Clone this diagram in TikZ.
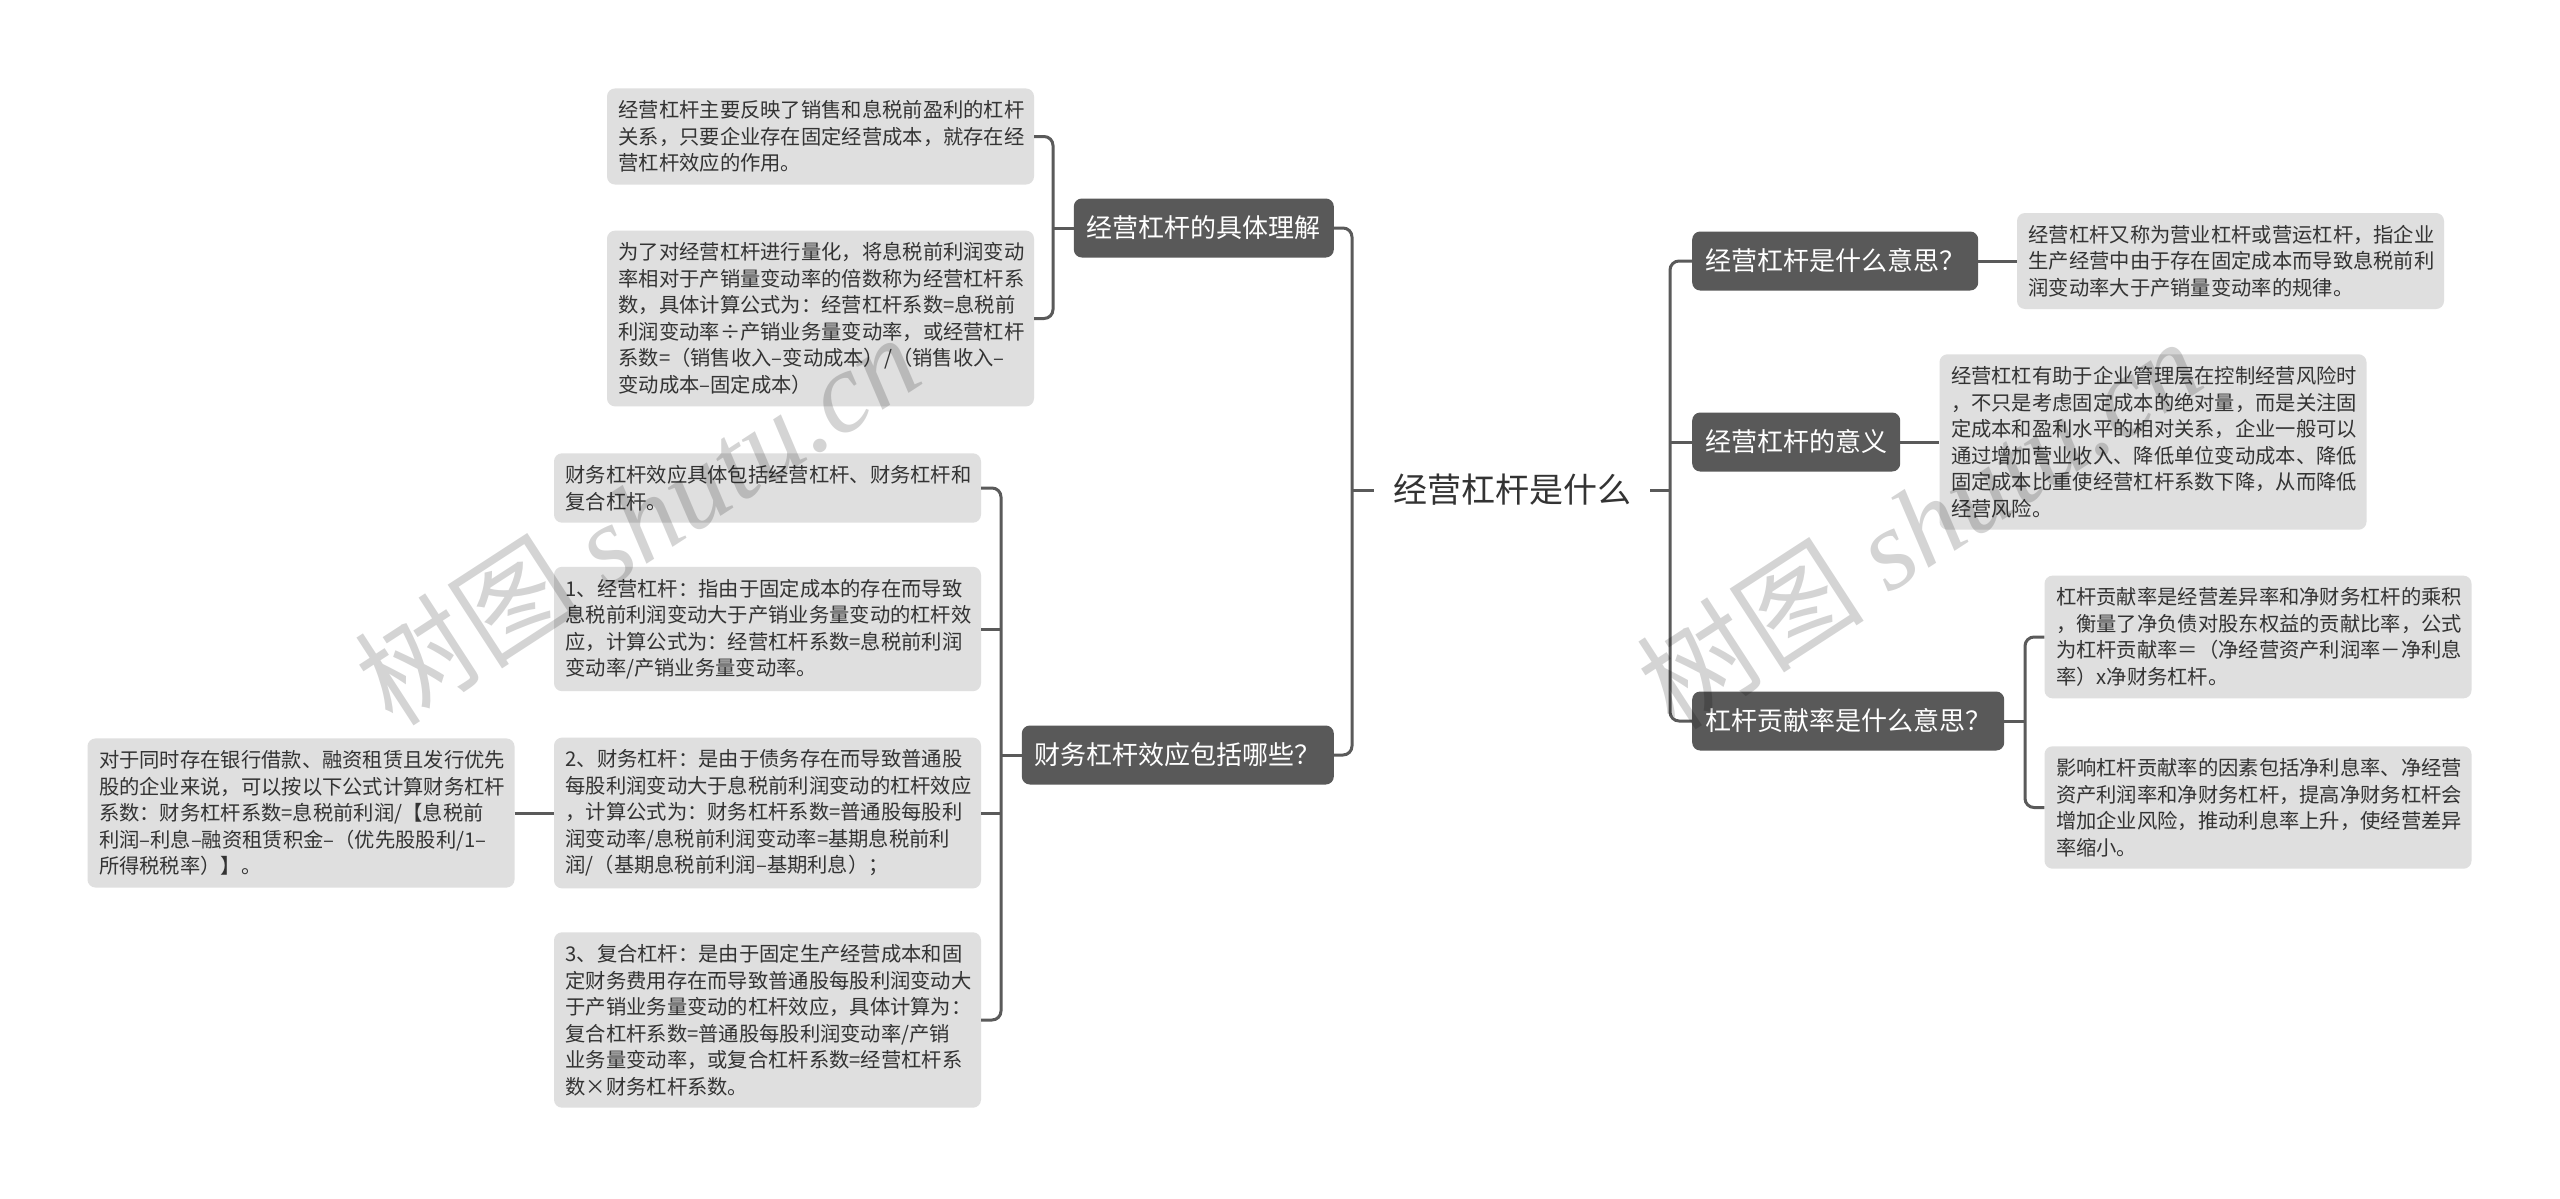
\documentclass[tikz,border=0pt]{standalone}
\usepackage{fontspec}
\setmainfont{Noto Sans CJK SC}
\newfontfamily\wmserif{Liberation Serif}
\usetikzlibrary{positioning}

\definecolor{topicgray}{HTML}{595959}
\definecolor{leafgray}{HTML}{DFDFDF}
\definecolor{inkgray}{HTML}{333333}
\definecolor{wiregray}{HTML}{5A5A5A}

\begin{document}
\begin{tikzpicture}[x=1pt,y=-1pt,
  leaf/.style={fill=leafgray,rounded corners=8pt,text width=404pt,inner xsep=11.5pt,inner ysep=12pt,
    align=left,text=inkgray,font=\fontsize{20.3}{26.5}\selectfont},
  topic/.style={fill=topicgray,rounded corners=8pt,text=white,minimum height=59pt,inner xsep=13pt,
    font=\fontsize{26}{30}\selectfont},
  link/.style={draw=wiregray,line width=3pt,rounded corners=9pt},
  wmtext/.style={text=black,opacity=0.17,font=\fontsize{114}{114}\selectfont,inner sep=0pt}]
\fill[white] (0,0) rectangle (2560,1199);
\useasboundingbox (0,0) rectangle (2560,1199);

% root and main topics
\node[text=inkgray,font=\fontsize{34}{40}\selectfont,inner xsep=19pt] (root) at (1512,490) {经营杠杆是什么};
\node[topic,anchor=east] (ul) at (1334,228) {经营杠杆的具体理解};
\node[topic,anchor=east] (fin) at (1334,755) {财务杠杆效应包括哪些？};
\node[topic,anchor=west] (mean) at (1692,261) {经营杠杆是什么意思？};
\node[topic,anchor=west] (sense) at (1692,442) {经营杠杆的意义};
\node[topic,anchor=west] (contrib) at (1692,721) {杠杆贡献率是什么意思？};

% leaves, left side
\node[leaf] (ulA) at (820.5,136.5) {经营杠杆主要反映了销售和息税前盈利的杠杆\\关系，只要企业存在固定经营成本，就存在经\\营杠杆效应的作用。};
\node[leaf] (ulB) at (820.5,318.5) {为了对经营杠杆进行量化，将息税前利润变动\\率相对于产销量变动率的倍数称为经营杠杆系\\数，具体计算公式为：经营杠杆系数=息税前\\利润变动率÷产销业务量变动率，或经营杠杆\\系数=（销售收入–变动成本）/（销售收入–\\变动成本–固定成本）};
\node[leaf] (finA) at (767.5,488) {财务杠杆效应具体包括经营杠杆、财务杠杆和\\复合杠杆。};
\node[leaf] (finB) at (767.5,629) {1、经营杠杆：指由于固定成本的存在而导致\\息税前利润变动大于产销业务量变动的杠杆效\\应，计算公式为：经营杠杆系数=息税前利润\\变动率/产销业务量变动率。};
\node[leaf] (finC) at (767.5,813) {2、财务杠杆：是由于债务存在而导致普通股\\每股利润变动大于息税前利润变动的杠杆效应\\，计算公式为：财务杠杆系数=普通股每股利\\润变动率/息税前利润变动率=基期息税前利\\润/（基期息税前利润–基期利息）；};
\node[leaf] (finD) at (767.5,1020) {3、复合杠杆：是由于固定生产经营成本和固\\定财务费用存在而导致普通股每股利润变动大\\于产销业务量变动的杠杆效应，具体计算为：\\复合杠杆系数=普通股每股利润变动率/产销\\业务量变动率，或复合杠杆系数=经营杠杆系\\数×财务杠杆系数。};
\node[leaf] (finCx) at (301,813) {对于同时存在银行借款、融资租赁且发行优先\\股的企业来说，可以按以下公式计算财务杠杆\\系数：财务杠杆系数=息税前利润/【息税前\\利润–利息–融资租赁积金–（优先股股利/1–\\所得税税率）】。};

% leaves, right side
\node[leaf] (meanL) at (2230.5,261) {经营杠杆又称为营业杠杆或营运杠杆，指企业\\生产经营中由于存在固定成本而导致息税前利\\润变动率大于产销量变动率的规律。};
\node[leaf] (senseL) at (2153,442) {经营杠杠有助于企业管理层在控制经营风险时\\，不只是考虑固定成本的绝对量，而是关注固\\定成本和盈利水平的相对关系，企业一般可以\\通过增加营业收入、降低单位变动成本、降低\\固定成本比重使经营杠杆系数下降，从而降低\\经营风险。};
\node[leaf] (contribA) at (2258,637) {杠杆贡献率是经营差异率和净财务杠杆的乘积\\，衡量了净负债对股东权益的贡献比率，公式\\为杠杆贡献率＝（净经营资产利润率－净利息\\率）x净财务杠杆。};
\node[leaf] (contribB) at (2258,807.5) {影响杠杆贡献率的因素包括净利息率、净经营\\资产利润率和净财务杠杆，提高净财务杠杆会\\增加企业风险，推动利息率上升，使经营差异\\率缩小。};

% junctions
\coordinate (spineL) at (1352,490);
\coordinate (spineR) at (1670,490);
\coordinate (ulJoin) at (1053,228);
\coordinate (finJoin) at (1001,755);
\coordinate (contribJoin) at (2025,721);

% connectors
\draw[link] (root.west) -- (spineL);
\draw[link] (ul.east) -| (spineL) |- (fin.east);
\draw[link] (root.east) -- (spineR);
\draw[link] (mean.west) -| (spineR) |- (contrib.west);
\draw[link] (sense.west) -- (sense.west -| spineR);
\draw[link] (ul.west) -- (ulJoin);
\draw[link] (ulA.east) -| (ulJoin) |- (ulB.east);
\draw[link] (fin.west) -- (finJoin);
\draw[link] (finA.east) -| (finJoin) |- (finD.east);
\draw[link] (finB.east) -- (finB.east -| finJoin);
\draw[link] (finC.east) -- (finC.east -| finJoin);
\draw[link] (finCx.east) -- (finC.west);
\draw[link] (mean.east) -- (meanL.west);
\draw[link] (sense.east) -- (senseL.west);
\draw[link] (contrib.east) -- (contribJoin);
\draw[link] (contribA.west) -| (contribJoin) |- (contribB.west);

% watermarks
\node[wmtext,rotate=33] (wmL) at (637,519) {树图 {\wmserif\itshape shutu.cn}};
\node[wmtext,rotate=33] (wmR) at (1919,523) {树图 {\wmserif\itshape shutu.cn}};
\end{tikzpicture}
\end{document}
